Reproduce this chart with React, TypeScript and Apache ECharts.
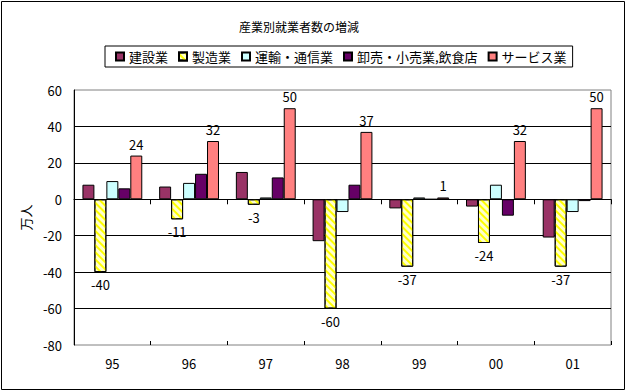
import React, { useEffect, useRef } from "react";
import * as echarts from "echarts";

const categories = ["95", "96", "97", "98", "99", "00", "01"];
const seriesNames = ["建設業", "製造業", "運輸・通信業", "卸売・小売業,飲食店", "サービス業"];
const construction = [8, 7, 15, -23, -5, -4, -21];
const manufacturing = [-40, -11, -3, -60, -37, -24, -37];
const transport = [10, 9, 1, -7, 1, 8, -7];
const wholesale = [6, 14, 12, 8, 0, -9, -1];
const services = [24, 32, 50, 37, 1, 32, 50];
const yTicks = { min: -80, max: 60, interval: 20 };

const FONT = "'Noto Sans CJK JP', 'Noto Sans', sans-serif";

export default function App() {
  const ref = useRef<HTMLDivElement>(null);
  useEffect(() => {
    if (!ref.current) return;
    const chart = echarts.init(ref.current, null, { renderer: "svg" });
    const border = { borderColor: "#000", borderWidth: 1 };
    const catAxisBase = {
      type: "category" as const,
      data: categories,
      gridIndex: 0,
      position: "bottom" as const,
    };
    chart.setOption({
      animation: false,
      backgroundColor: "#fff",
      textStyle: { fontFamily: FONT, color: "#000" },
      title: {
        text: "産業別就業者数の増減",
        left: 239,
        top: 20,
        padding: 0,
        textStyle: { fontSize: 12, fontWeight: "normal", color: "#000", fontFamily: FONT },
      },
      legend: {
        left: 105,
        top: 46,
        orient: "horizontal",
        borderColor: "#000",
        borderWidth: 1,
        padding: [4, 6, 4, 10],
        itemWidth: 8,
        itemHeight: 8,
        itemGap: 10,
        icon: "rect",
        textStyle: { fontSize: 13, color: "#000", fontFamily: FONT },
        data: seriesNames,
      },
      grid: {
        left: 74,
        top: 90,
        width: 537,
        height: 255,
        show: true,
        borderColor: "#808080",
        borderWidth: 1,
        backgroundColor: "#fff",
      },
      xAxis: [
        {
          ...catAxisBase,
          axisLine: { show: false, onZero: false },
          axisTick: { show: false },
          axisLabel: { fontSize: 13, color: "#000", margin: 12, fontFamily: FONT },
          splitLine: { show: false },
        },
        {
          ...catAxisBase,
          axisLine: { show: true, onZero: true, lineStyle: { color: "#000", width: 1 } },
          axisTick: { show: true, inside: false, length: 5, lineStyle: { color: "#000" } },
          axisLabel: { show: false },
          splitLine: { show: false },
        },
        {
          ...catAxisBase,
          axisLine: { show: false, onZero: true },
          axisTick: { show: true, inside: true, length: 4, lineStyle: { color: "#000" } },
          axisLabel: { show: false },
          splitLine: { show: false },
        },
      ],
      yAxis: {
        type: "value",
        min: yTicks.min,
        max: yTicks.max,
        interval: yTicks.interval,
        name: "万人",
        nameLocation: "middle",
        nameRotate: 90,
        nameGap: 42,
        nameTextStyle: { fontSize: 13, color: "#000", fontFamily: FONT },
        axisLine: { show: true, lineStyle: { color: "#000", width: 1 } },
        axisTick: { show: false },
        axisLabel: { fontSize: 13, color: "#000", margin: 12, fontFamily: FONT },
        splitLine: {
          show: true,
          showMinLine: false,
          showMaxLine: false,
          lineStyle: { color: "#000", width: 1 },
        },
      },
      series: [
        {
          name: seriesNames[0],
          type: "bar",
          data: construction,
          barGap: "0%",
          barCategoryGap: "22%",
          itemStyle: { color: "#993366", ...border },
        },
        {
          name: seriesNames[1],
          type: "bar",
          data: manufacturing,
          itemStyle: {
            color: "#FFFFCC",
            ...border,
            decal: {
              symbol: "rect",
              color: "#FFFF00",
              dashArrayX: [1, 0],
              dashArrayY: [2, 3],
              rotation: Math.PI / 4,
            },
          },
          label: {
            show: true,
            position: "bottom",
            distance: 6,
            fontSize: 13,
            color: "#000",
            fontFamily: FONT,
          },
        },
        {
          name: seriesNames[2],
          type: "bar",
          data: transport,
          itemStyle: { color: "#CCFFFF", ...border },
        },
        {
          name: seriesNames[3],
          type: "bar",
          data: wholesale,
          itemStyle: { color: "#660066", ...border },
        },
        {
          name: seriesNames[4],
          type: "bar",
          data: services,
          itemStyle: { color: "#FF8080", ...border },
          label: {
            show: true,
            position: "top",
            distance: 5,
            fontSize: 13,
            color: "#000",
            fontFamily: FONT,
          },
        },
      ],
      graphic: [
        {
          type: "rect",
          shape: { x: 1.5, y: 1.5, width: 623, height: 388 },
          style: { fill: "none", stroke: "#000", lineWidth: 1 },
          silent: true,
          z: 100,
        },
      ],
    });
    return () => chart.dispose();
  }, []);
  return (
    <div
      ref={ref}
      style={{ position: "fixed", left: 0, top: 0, width: 627, height: 391 }}
    />
  );
}
